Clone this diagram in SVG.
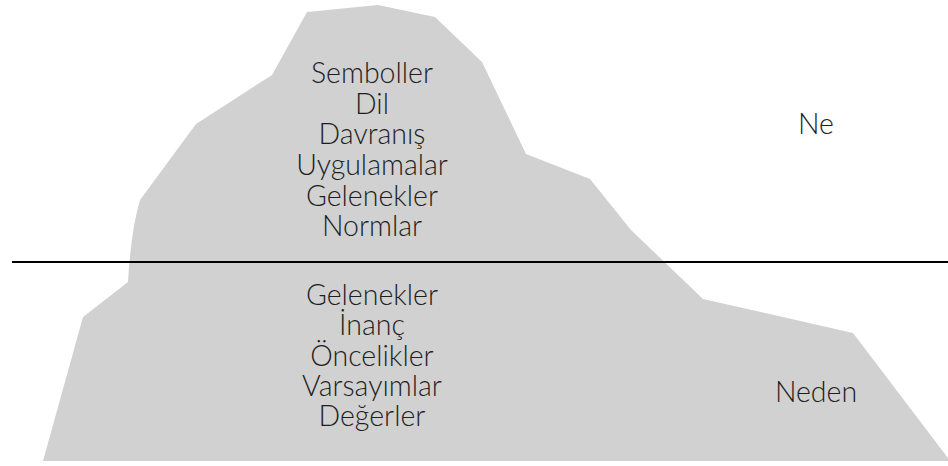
<svg xmlns="http://www.w3.org/2000/svg" width="948" height="466" viewBox="0 0 948 466">
  <style>
    .lbl { font-family: Lato, "Open Sans", "DejaVu Sans", sans-serif; font-weight: 300; font-size: 28.5px; fill: #1e1e1e; text-anchor: middle; }
  </style>
  <rect width="948" height="466" fill="#ffffff"/>
  <!-- iceberg body -->
  <g id="iceberg">
    <path d="M307,12 L378,5 L435,17 L482,62 L526,154 L590,179 L631,230 L703,299 L853,333 L948,458 L948,461 L43,461 L83,317 L128,282 Q131,230 140,200 L196,124 L272,75 Z" fill="#d1d1d1"/>
  </g>
  <!-- waterline -->
  <g id="connectors">
    <line x1="12" y1="262" x2="948" y2="262" stroke="#000000" stroke-width="2"/>
  </g>
  <g id="above">
    <text class="lbl" x="372" y="83">Semboller</text>
    <text class="lbl" x="372" y="114">Dil</text>
    <text class="lbl" x="372" y="144">Davranış</text>
    <text class="lbl" x="372" y="175">Uygulamalar</text>
    <text class="lbl" x="372" y="206">Gelenekler</text>
    <text class="lbl" x="372" y="236">Normlar</text>
  </g>
  <g id="below">
    <text class="lbl" x="372" y="305">Gelenekler</text>
    <text class="lbl" x="372" y="335">İnanç</text>
    <text class="lbl" x="372" y="366">Öncelikler</text>
    <text class="lbl" x="372" y="396">Varsayımlar</text>
    <text class="lbl" x="372" y="426">Değerler</text>
  </g>
  <g id="ne">
    <text class="lbl" x="816" y="134">Ne</text>
  </g>
  <g id="neden">
    <text class="lbl" x="816" y="402">Neden</text>
  </g>
</svg>
